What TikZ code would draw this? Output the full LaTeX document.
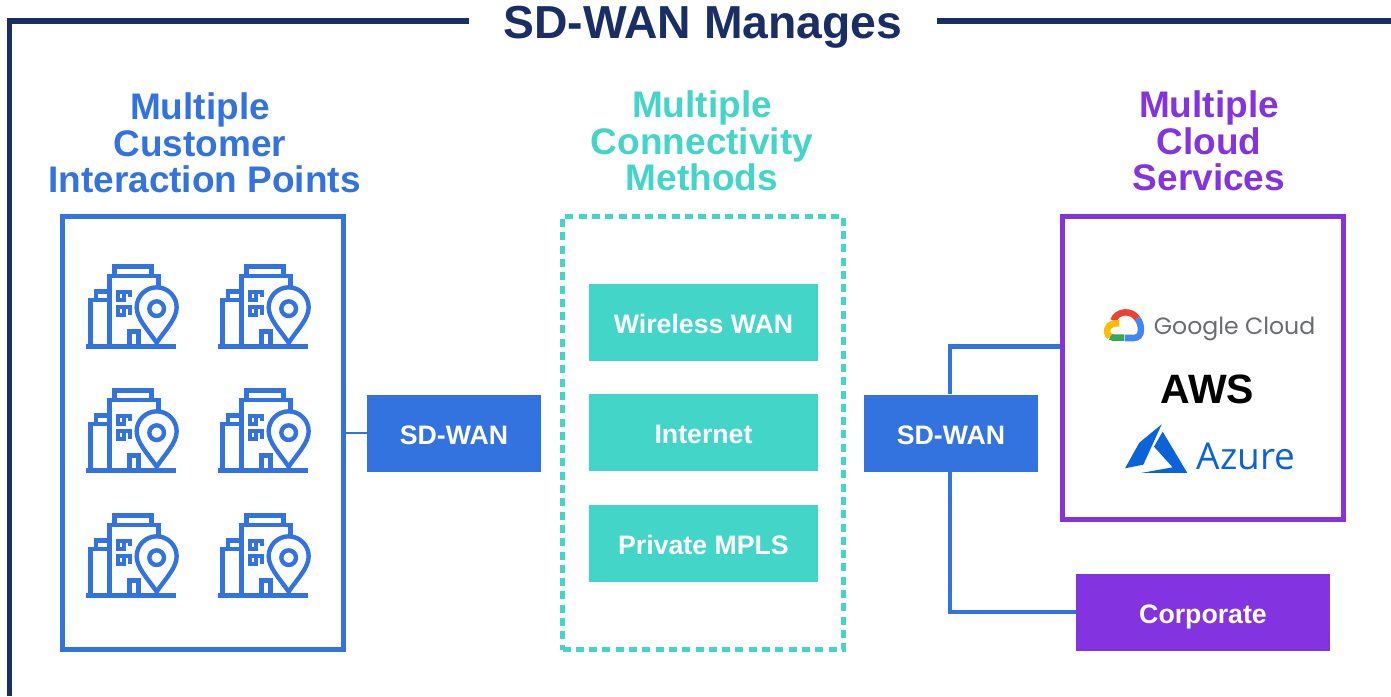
\documentclass[tikz,border=0pt]{standalone}
\usepackage{fontspec}
\setmainfont{Liberation Sans}
\newfontfamily\opens{Open Sans}
\newfontfamily\pop{Poppins}
\definecolor{navy}{HTML}{1A2E66}
\definecolor{bluec}{HTML}{3373E0}
\definecolor{tealc}{HTML}{43D6C8}
\definecolor{purp}{HTML}{8333E0}
\definecolor{azure}{HTML}{0A63D8}
\definecolor{ggray}{HTML}{6A6C70}
\tikzset{
  x=1pt,y=-1pt,
  titletext/.style={font=\fontsize{37}{36.7}\selectfont\bfseries,align=center,inner sep=0pt},
  solidbox/.style={fill=#1,draw=none,text=white,inner sep=0pt,text height=22.6pt,text depth=0pt,font=\fontsize{26.7}{28}\selectfont\bfseries},
  iconline/.style={draw=bluec,line width=4.4pt,fill=none,line join=miter},
  winline/.style={draw=bluec,line width=4.2pt,fill=none,line join=miter},
  pics/bldg/.style={code={
    \begin{scope}[x=0.3333pt,y=-0.3333pt]
      \draw[iconline] (48,290) -- (318,290);
      \draw[iconline] (62,290) -- (62,150) -- (118,150);
      \draw[iconline] (78,150) -- (78,125) -- (118,125);
      \draw[iconline] (118,290) -- (118,78) -- (265,78) -- (265,112);
      \draw[iconline] (133,78) -- (133,50) -- (245,50) -- (245,78);
      \draw[winline] (162,125) -- (143,125) -- (143,150) -- (162,150) -- (162,125) -- (180,125) -- (180,140);
      \draw[winline] (162,172) -- (143,172) -- (143,195) -- (162,195) -- (162,172) -- (180,172) -- (180,195);
      \draw[iconline] (178,290) -- (178,245) -- (206,245) -- (206,290);
      \draw[iconline,fill=white] (260,278) .. controls (230,235) and (200,205) .. (200,172)
        arc[start angle=180,end angle=360,radius=60] .. controls (320,205) and (290,235) .. cycle;
      \draw[iconline] (260,176) circle[radius=22];
    \end{scope}
  }}
}
\begin{document}
\begin{tikzpicture}
\useasboundingbox (0,0) rectangle (1391,696);
% frame
\draw[navy,line width=5.5pt] (9.7,696) -- (9.7,21) -- (469,21);
\draw[navy,line width=5.5pt] (937,21) -- (1391,21);
\node[inner sep=0pt,text=navy,font=\fontsize{46.3}{50}\selectfont\bfseries] (title) at (703,27) {SD-WAN Manages};
% headings
\node[titletext,text=bluec] (h1) at (204.5,143) {Multiple\kern9pt\\Customer\kern9pt\\Interaction Points};
\node[titletext,text=tealc] (h2) at (702,141) {Multiple\\Connectivity\\Methods};
\node[titletext,text=purp] (h3) at (1209,141) {Multiple\\Cloud\\Services};
% group boxes
\node[draw=bluec,line width=4.5pt,minimum width=281pt,minimum height=433pt,inner sep=0pt] (b1) at (203,433) {};
\node[draw=tealc,line width=5.5pt,dash pattern=on 8pt off 5.3pt,minimum width=281pt,minimum height=433pt,inner sep=0pt] (b2) at (703,433) {};
\node[draw=purp,line width=5pt,minimum width=281pt,minimum height=303pt,inner sep=0pt] (b3) at (1203,368) {};
% icons
\foreach \cx in {70,202} \foreach \cy in {250,374,499} \pic at (\cx,\cy) {bldg};
% boxes
\node[solidbox=bluec,minimum width=174pt,minimum height=77pt] (s1) at (454,433) {SD-WAN};
\node[solidbox=bluec,minimum width=174pt,minimum height=77pt] (s2) at (951,433) {SD-WAN};
\node[solidbox=tealc,minimum width=229pt,minimum height=77pt] (w) at (703.5,322) {Wireless WAN};
\node[solidbox=tealc,minimum width=229pt,minimum height=77pt] (i) at (703.5,432.5) {Internet};
\node[solidbox=tealc,minimum width=229pt,minimum height=77pt] (m) at (703.5,543) {Private MPLS};
\node[solidbox=purp,minimum width=254pt,minimum height=77pt] (c) at (1203,612) {Corporate};
% connectors
\coordinate (cl) at (b3.west |- 0,346.5);
\draw[bluec,line width=2.6pt] (b1.east |- s1.west) -- (s1.west);
\draw[bluec,line width=4.4pt] (s2.north -| 950,0) |- (cl);
\draw[bluec,line width=4.4pt] (s2.south -| 950,0) |- (c.west);
% logos
\begin{scope}[shift={(1080,290)},x=0.3333pt,y=-0.3333pt,line width=6.5pt]
  \draw[color={rgb,255:red,234;green,67;blue,53}] (100,92) .. controls (110,62) and (155,58) .. (172,86);
  \draw[color={rgb,255:red,66;green,133;blue,244}] (172,86) .. controls (185,100) and (192,145) .. (160,144) -- (135,144);
  \draw[color={rgb,255:red,52;green,168;blue,83}] (133,143) -- (100,143) -- (90,140);
  \draw[color={rgb,255:red,251;green,188;blue,5}] (90,140) .. controls (72,128) and (82,95) .. (118,100);
\end{scope}
\node[inner sep=0pt,text=ggray,font=\pop\fontsize{23.6}{28}\selectfont] (gc) at (1234.5,329) {Google Cloud};
\node[inner sep=0pt,text=black,font=\fontsize{41}{44}\selectfont\bfseries] (aws) at (1207.5,389.5) {AWS};
\begin{scope}[shift={(1080,290)},x=0.3333pt,y=-0.3333pt]
  \fill[azure] (245,403) -- (178,458) -- (135,535) -- (190,524) -- cycle;
  \fill[azure] (248,425) -- (322,549) -- (183,549) -- (278,532) -- (222,470) -- cycle;
\end{scope}
\node[inner sep=0pt,text=azure,font=\opens\fontsize{37}{40}\selectfont] (az) at (1246,456) {Azure};
\end{tikzpicture}
\end{document}
